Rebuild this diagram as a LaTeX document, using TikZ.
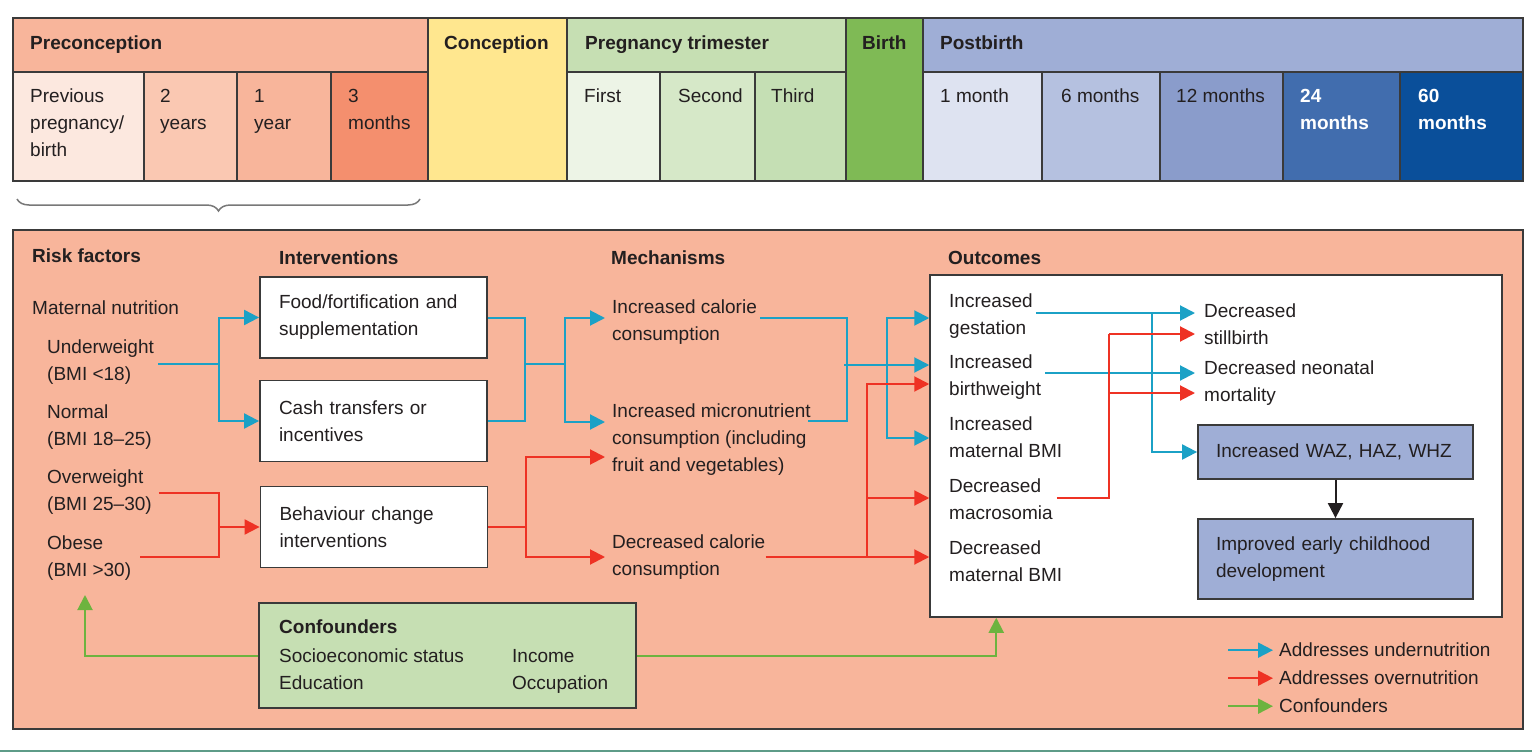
\documentclass[tikz,border=0pt]{standalone}
\usepackage{fontspec}
\setmainfont{Liberation Sans}
\usetikzlibrary{arrows.meta,calc,decorations.pathreplacing}
\definecolor{ink}{HTML}{231F20}
\definecolor{edge}{HTML}{3A3A3A}
\definecolor{salm}{HTML}{F8B59B}
\definecolor{cyanl}{HTML}{1BA1C6}
\definecolor{redl}{HTML}{EE3224}
\definecolor{greenl}{HTML}{6DB33F}
\definecolor{conff}{HTML}{C6DFB3}
\definecolor{outb}{HTML}{9FAED6}
\newcommand\fsz{\fontsize{19}{27}\selectfont}
\begin{document}
\begin{tikzpicture}[x=1pt,y=-1pt,
  txt/.style={anchor=north west, inner sep=0pt, align=left, font=\fsz, text=ink},
  hd/.style={txt, font=\fsz\bfseries},
  cell/.style={draw=edge, line width=1.5pt},
  ibox/.style={draw=edge, fill=white, line width=1.8pt, minimum width=227pt, minimum height=81pt, text width=189pt, align=left, inner sep=0pt, font=\fsz, text=ink},
  obox/.style={draw=edge, fill=outb, line width=1.8pt, minimum width=275pt, minimum height=54pt, text width=239pt, align=left, inner sep=0pt, font=\fsz, text=ink},
  con/.style={line width=2pt},
  tip/.style={-{Triangle[length=15pt,width=15pt]}},
  cyl/.style={con, draw=cyanl},
  cya/.style={cyl, tip},
  rdl/.style={con, draw=redl},
  rda/.style={rdl, tip},
  gra/.style={con, draw=greenl, tip},
  blka/.style={con, draw=ink, tip}]
\useasboundingbox (0,0) rectangle (1532,752);
\fill[white] (0,0) rectangle (1532,752);

% ---------- timeline bar ----------
\filldraw[cell, fill=salm] (13,18) rectangle (428,72);
\filldraw[cell, fill={rgb,255:red,252;green,232;blue,223}] (13,72) rectangle (144,181);
\filldraw[cell, fill={rgb,255:red,250;green,200;blue,178}] (144,72) rectangle (237,181);
\filldraw[cell, fill=salm] (237,72) rectangle (331,181);
\filldraw[cell, fill={rgb,255:red,244;green,143;blue,110}] (331,72) rectangle (428,181);
\filldraw[cell, fill={rgb,255:red,255;green,231;blue,143}] (428,18) rectangle (567,181);
\filldraw[cell, fill=conff] (567,18) rectangle (846,72);
\filldraw[cell, fill={rgb,255:red,237;green,244;blue,230}] (567,72) rectangle (660,181);
\filldraw[cell, fill={rgb,255:red,214;green,232;blue,200}] (660,72) rectangle (755,181);
\filldraw[cell, fill={rgb,255:red,197;green,223;blue,180}] (755,72) rectangle (846,181);
\filldraw[cell, fill={rgb,255:red,127;green,186;blue,85}] (846,18) rectangle (923,181);
\filldraw[cell, fill=outb] (923,18) rectangle (1523,72);
\filldraw[cell, fill={rgb,255:red,222;green,227;blue,241}] (923,72) rectangle (1042,181);
\filldraw[cell, fill={rgb,255:red,181;green,193;blue,224}] (1042,72) rectangle (1160,181);
\filldraw[cell, fill={rgb,255:red,138;green,156;blue,203}] (1160,72) rectangle (1283,181);
\filldraw[cell, fill={rgb,255:red,65;green,109;blue,174}] (1283,72) rectangle (1400,181);
\filldraw[cell, fill={rgb,255:red,10;green,79;blue,154}] (1400,72) rectangle (1523,181);

\node[hd] (tpre) at (30,36) {Preconception};
\node[hd] (tcon) at (444,36) {Conception};
\node[hd] (tpt) at (585,36) {Pregnancy trimester};
\node[hd] (tbir) at (862,36) {Birth};
\node[hd] (tpost) at (940,36) {Postbirth};
\node[txt] (c1) at (30,89) {Previous\\pregnancy/\\birth};
\node[txt] (c2) at (160,89) {2\\years};
\node[txt] (c3) at (254,89) {1\\year};
\node[txt] (c4) at (348,89) {3\\months};
\node[txt] (c5) at (584,89) {First};
\node[txt] (c6) at (678,89) {Second};
\node[txt] (c7) at (771,89) {Third};
\node[txt] (c8) at (940,89) {1 month};
\node[txt] (c9) at (1061,89) {6 months};
\node[txt] (c10) at (1176,89) {12 months};
\node[hd, text=white] (c11) at (1300,89) {24\\months};
\node[hd, text=white] (c12) at (1418,89) {60\\months};

\draw[draw={rgb,255:red,120;green,120;blue,120}, line width=1.5pt, decorate,
      decoration={brace, amplitude=12pt, mirror}] (17,199) -- (420,199);

% ---------- main panel ----------
\filldraw[fill=salm, draw=edge, line width=1.5pt] (13,230) rectangle (1523,729);
\draw[draw={rgb,255:red,94;green,156;blue,136}, line width=2pt] (0,751) -- (1532,751);

\node[hd] (rf) at (32,249) {Risk factors};
\node[hd] (hint) at (279,251) {Interventions};
\node[hd] (hmech) at (611,251) {Mechanisms};
\node[hd] (hout) at (948,251) {Outcomes};

\node[txt] (mn) at (32,301) {Maternal nutrition};
\node[txt] (uw) at (47,340) {Underweight\\(BMI <18)};
\node[txt] (nw) at (47,405) {Normal\\(BMI 18–25)};
\node[txt] (ow) at (47,470) {Overweight\\(BMI 25–30)};
\node[txt] (ob) at (47,536) {Obese\\(BMI >30)};

\node[ibox] (food) at (373.5,317.5) {Food/fortification and\\supplementation};
\node[ibox] (cash) at (373.5,421) {Cash transfers or\\incentives};
\node[ibox] (behav) at (374,527) {Behaviour change\\interventions};

\node[txt] (incal) at (612,300) {Increased calorie\\consumption};
\node[txt] (micro) at (612,404) {Increased micronutrient\\consumption (including\\fruit and vegetables)};
\node[txt] (decal) at (612,535) {Decreased calorie\\consumption};

\node[draw=edge, fill=white, line width=1.5pt, minimum width=572pt, minimum height=342pt, inner sep=0pt] (outbox) at (1216,446) {};
\node[txt] (gest) at (949,294) {Increased\\gestation};
\node[txt] (bw) at (949,355) {Increased\\birthweight};
\node[txt] (matb) at (949,417) {Increased\\maternal BMI};
\node[txt] (mac) at (949,479) {Decreased\\macrosomia};
\node[txt] (dmat) at (949,541) {Decreased\\maternal BMI};
\node[txt] (ds) at (1204,304) {Decreased\\stillbirth};
\node[txt] (dn) at (1204,361) {Decreased neonatal\\mortality};
\node[obox] (waz) at (1335.5,452) {Increased WAZ, HAZ, WHZ};
\node[obox, minimum height=80pt] (ecd) at (1335.5,559) {Improved early childhood\\development};

\node[draw=edge, fill=conff, line width=1.8pt, minimum width=377pt, minimum height=105pt, inner sep=0pt] (conf) at (447.5,655.5) {};
\node[hd] (cft) at (279,620) {Confounders};
\node[txt] (ses) at (279,649) {Socioeconomic status\\Education};
\node[txt] (inc) at (512,649) {Income\\Occupation};

\node[txt] (lg1) at (1279,643) {Addresses undernutrition};
\node[txt] (lg2) at (1279,671) {Addresses overnutrition};
\node[txt] (lg3) at (1279,699) {Confounders};

% ---------- connectors ----------
% risk factors -> interventions
\coordinate (uwS) at ([shift={(4,24)}]uw.north east);
\draw[cya] (uwS) -| ([xshift=-40pt]food.west) -- (food.west);
\draw[cya] (uwS) -| ([xshift=-40pt]cash.west) -- (cash.west);
\coordinate (owS) at ([shift={(7,23)}]ow.north east);
\coordinate (obS) at ([shift={(9,21)}]ob.north east);
\coordinate (rj) at ([xshift=-41pt]behav.west);
\draw[rdl] (owS) -| (rj) |- (obS);
\draw[rda] (rj) -- (behav.west);

% interventions -> mechanisms
\coordinate (bm1) at ($(food.east)!0.45!(cash.east)+(37,0)$);
\coordinate (bm2) at ($(bm1)+(40,0)$);
\coordinate (incA) at ([shift={(-7,18)}]incal.north west);
\coordinate (micA) at ([shift={(-7,18)}]micro.north west);
\draw[cyl] (food.east) -| (bm1) |- (cash.east);
\draw[cyl] (bm1) -- (bm2);
\draw[cya] (bm2) |- (incA);
\draw[cya] (bm2) |- (micA);
\coordinate (rm) at ([xshift=38pt]behav.east);
\coordinate (micR) at ([shift={(-7,53)}]micro.north west);
\coordinate (decA) at ([shift={(-7,22)}]decal.north west);
\draw[rdl] (behav.east) -- (rm);
\draw[rda] (rm) |- (micR);
\draw[rda] (rm) |- (decA);

% mechanisms -> outcomes
\coordinate (oG) at ($(outbox.west |- gest.north)+(0,24)$);
\coordinate (oBb) at ($(outbox.west |- bw.north)+(0,10)$);
\coordinate (oBr) at ($(outbox.west |- bw.north)+(0,29)$);
\coordinate (oM) at ($(outbox.west |- matb.north)+(0,21)$);
\coordinate (oMac) at ($(outbox.west |- mac.north)+(0,19)$);
\coordinate (oD) at ($(outbox.west |- dmat.north)+(0,16)$);
\coordinate (incE) at ([shift={(3,18)}]incal.north east);
\coordinate (micE) at ([shift={(-3,17)}]micro.north east);
\coordinate (bj) at ($(oBb)+(-82,0)$);
\coordinate (bk) at ($(oBb)+(-42,0)$);
\draw[cyl] (incE) -| (bj) |- (micE);
\draw[cya] ($(bj)+(-3,0)$) -- (oBb);
\draw[cya] (bk) |- (oG);
\draw[cya] (bk) |- (oM);
\coordinate (decE) at ([shift={(0,22)}]decal.north east);
\coordinate (rk) at ($(oD)+(-62,0)$);
\draw[rda] (decE) -- (oD);
\draw[rda] (rk) |- (oMac);
\draw[rda] (rk) |- (oBr);

% within outcomes
\coordinate (gS) at ([shift={(3,19)}]gest.north east);
\coordinate (dsB) at ([shift={(-9,9)}]ds.north west);
\coordinate (dsR) at ([shift={(-9,30)}]ds.north west);
\coordinate (dnB) at ([shift={(-9,12)}]dn.north west);
\coordinate (dnR) at ([shift={(-9,32)}]dn.north west);
\coordinate (bwS) at ([shift={(4,18)}]bw.north east);
\coordinate (macS) at ([shift={(4,19)}]mac.north east);
\coordinate (gv) at ([xshift=-45pt]waz.west);
\coordinate (rv) at ($(dsR)+(-86,0)$);
\draw[cya] (gS) -- (dsB);
\draw[cya] (gS -| gv) |- (waz.west);
\draw[cya] (bwS) -- (dnB);
\draw[rdl] (macS) -| (rv);
\draw[rda] (rv) -- (dsR);
\draw[rda] (rv |- dnR) -- (dnR);
\draw[blka] (waz) -- (ecd);

% confounders
\draw[gra] (conf.west) -| ([shift={(38,59)}]ob.north west);
\draw[gra] (conf.east) -| ([xshift=67pt]outbox.south west);

% legend
\draw[cya] ([xshift=-51pt]lg1.west) -- ([xshift=-6pt]lg1.west);
\draw[rda] ([xshift=-51pt]lg2.west) -- ([xshift=-6pt]lg2.west);
\draw[gra] ([xshift=-51pt]lg3.west) -- ([xshift=-6pt]lg3.west);
\end{tikzpicture}
\end{document}
